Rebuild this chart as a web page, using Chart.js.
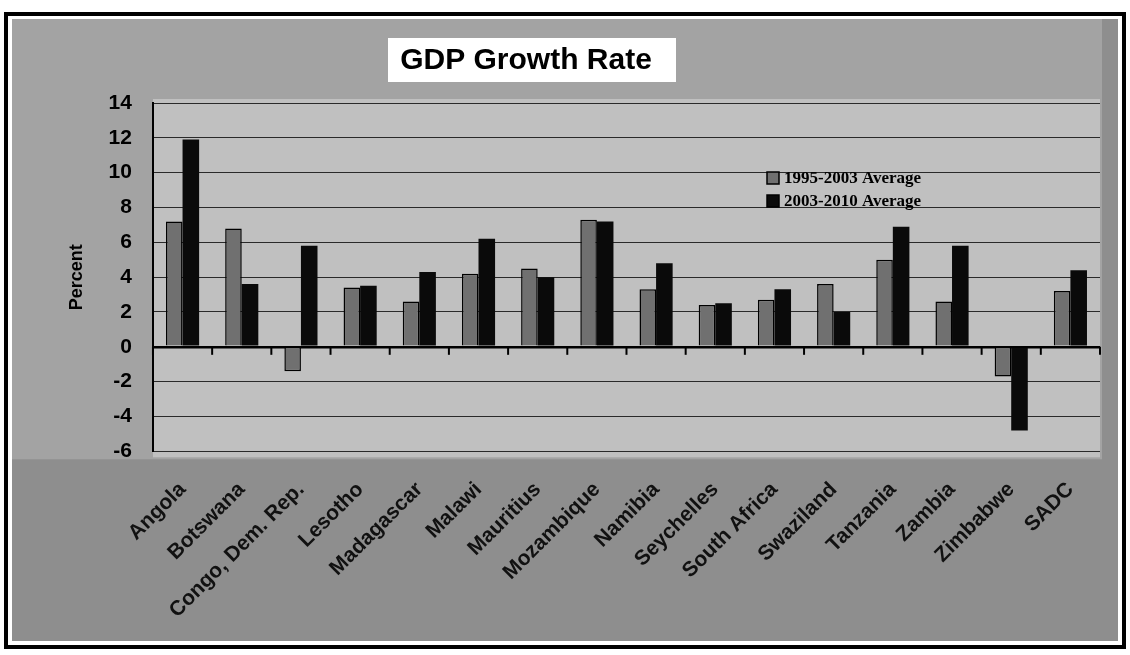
<!DOCTYPE html>
<html>
<head>
<meta charset="utf-8">
<title>GDP Growth Rate</title>
<script src="https://cdn.jsdelivr.net/npm/chart.js@4.4.1/dist/chart.umd.min.js"></script>
<style>
  html, body { margin: 0; padding: 0; background: #ffffff; }
  #wrap { position: relative; width: 1130px; height: 655px; }
</style>
</head>
<body>
<div id="wrap"><canvas id="gdpChart" width="1130" height="655"></canvas></div>
<script>
// ===== Data =====
const countries = ['Angola', 'Botswana', 'Congo, Dem. Rep.', 'Lesotho', 'Madagascar', 'Malawi',
  'Mauritius', 'Mozambique', 'Namibia', 'Seychelles', 'South Africa', 'Swaziland',
  'Tanzania', 'Zambia', 'Zimbabwe', 'SADC'];
const avg1995to2003 = [7.2, 6.8, -1.4, 3.4, 2.6, 4.2, 4.5, 7.3, 3.3, 2.4, 2.7, 3.6, 5.0, 2.6, -1.7, 3.2];
const avg2003to2010 = [11.9, 3.6, 5.8, 3.5, 4.3, 6.2, 4.0, 7.2, 4.8, 2.5, 3.3, 2.0, 6.9, 5.8, -4.8, 4.4];
const seriesNames = ['1995-2003 Average', '2003-2010 Average'];
const chartTitle = 'GDP Growth Rate';
const yTitle = 'Percent';

// ===== Backdrop: frame, grey panels, title box =====
const backdrop = {
  id: 'backdrop',
  beforeDraw(chart) {
    const ctx = chart.ctx;
    const a = chart.chartArea;
    ctx.save();
    ctx.fillStyle = '#ffffff';
    ctx.fillRect(0, 0, chart.width, chart.height);
    ctx.fillStyle = '#a3a3a3';
    ctx.fillRect(12, 19, 1106, 622);
    // darker band under the plot where the country names sit
    ctx.fillStyle = '#8e8e8e';
    ctx.fillRect(12, a.bottom + 8, 1106, 641 - a.bottom - 8);
    ctx.fillRect(a.right + 2, 19, 1118 - a.right - 2, 622);
    // lighter plot panel
    ctx.fillStyle = '#c0c0c0';
    ctx.fillRect(a.left, a.top - 4, a.right - a.left, a.bottom - a.top + 10);
    // outer frame
    ctx.strokeStyle = '#000000';
    ctx.lineWidth = 4;
    ctx.strokeRect(6, 14, 1118, 633);
    // title box
    ctx.fillStyle = '#ffffff';
    ctx.fillRect(388, 38, 288, 44);
    ctx.fillStyle = '#000000';
    ctx.font = 'bold 30px "Liberation Sans", Arial, sans-serif';
    ctx.textAlign = 'center';
    ctx.textBaseline = 'middle';
    ctx.fillText(chartTitle, 526, 61);
    ctx.restore();
  }
};

// ===== Small tick marks along the zero line =====
const zeroTicks = {
  id: 'zeroTicks',
  afterDatasetsDraw(chart) {
    const xs = chart.scales.x;
    const ys = chart.scales.y;
    const y0 = ys.getPixelForValue(0);
    const ctx = chart.ctx;
    ctx.save();
    ctx.strokeStyle = '#000';
    ctx.lineWidth = 2;
    for (let i = 0; i <= countries.length; i++) {
      const x = (xs.getPixelForValue(i - 1) + xs.getPixelForValue(i)) / 2;
      ctx.beginPath();
      ctx.moveTo(x, y0);
      ctx.lineTo(x, y0 + 8);
      ctx.stroke();
    }
    ctx.restore();
  }
};

// ===== Legend drawn inside the plot =====
const innerLegend = {
  id: 'innerLegend',
  afterDraw(chart) {
    const ctx = chart.ctx;
    const x = 767;
    const rows = [178, 201];
    ctx.save();
    ctx.font = 'bold 17px "Liberation Serif", "DejaVu Serif", serif';
    ctx.textBaseline = 'middle';
    chart.data.datasets.forEach((ds, i) => {
      const y = rows[i];
      ctx.fillStyle = ds.backgroundColor;
      ctx.fillRect(x, y - 6, 12, 12);
      ctx.strokeStyle = '#000';
      ctx.lineWidth = 1.5;
      ctx.strokeRect(x, y - 6, 12, 12);
      ctx.fillStyle = '#000';
      ctx.fillText(ds.label, x + 17, y + 1);
    });
    ctx.restore();
  }
};

const ctx = document.getElementById('gdpChart');
new Chart(ctx, {
  type: 'bar',
  data: {
    labels: countries,
    datasets: [
      {
        label: seriesNames[0],
        data: avg1995to2003,
        backgroundColor: '#707070',
        borderColor: '#000000',
        borderWidth: 1.5,
        categoryPercentage: 0.56,
        barPercentage: 1.0
      },
      {
        label: seriesNames[1],
        data: avg2003to2010,
        backgroundColor: '#0a0a0a',
        borderColor: '#000000',
        borderWidth: 0,
        categoryPercentage: 0.56,
        barPercentage: 1.0
      }
    ]
  },
  options: {
    responsive: false,
    animation: false,
    devicePixelRatio: 1,
    layout: { padding: { top: 103, right: 30, bottom: 14, left: 48 } },
    plugins: {
      legend: { display: false },
      title: { display: false },
      tooltip: { enabled: false }
    },
    scales: {
      x: {
        grid: { display: false },
        border: { display: false },
        ticks: {
          autoSkip: false,
          minRotation: 45,
          maxRotation: 45,
          padding: 18,
          color: '#111',
          font: { family: '"Liberation Sans", Arial, sans-serif', size: 21, weight: 'bold' }
        }
      },
      y: {
        min: -6,
        max: 14,
        ticks: {
          stepSize: 2,
          padding: 21,
          color: '#000',
          font: { family: '"Liberation Sans", Arial, sans-serif', size: 21, weight: 'bold' }
        },
        grid: {
          drawTicks: false,
          color: ctx => ctx.tick && ctx.tick.value === 0 ? '#000' : '#2a2a2a',
          lineWidth: ctx => ctx.tick && ctx.tick.value === 0 ? 2.5 : 1
        },
        border: { display: true, color: '#000', width: 2 },
        title: {
          display: true,
          text: yTitle,
          color: '#000',
          padding: { top: 18, bottom: 0 },
          font: { family: '"Liberation Sans", Arial, sans-serif', size: 18, weight: 'bold' }
        }
      }
    }
  },
  plugins: [backdrop, zeroTicks, innerLegend]
});
</script>
</body>
</html>
